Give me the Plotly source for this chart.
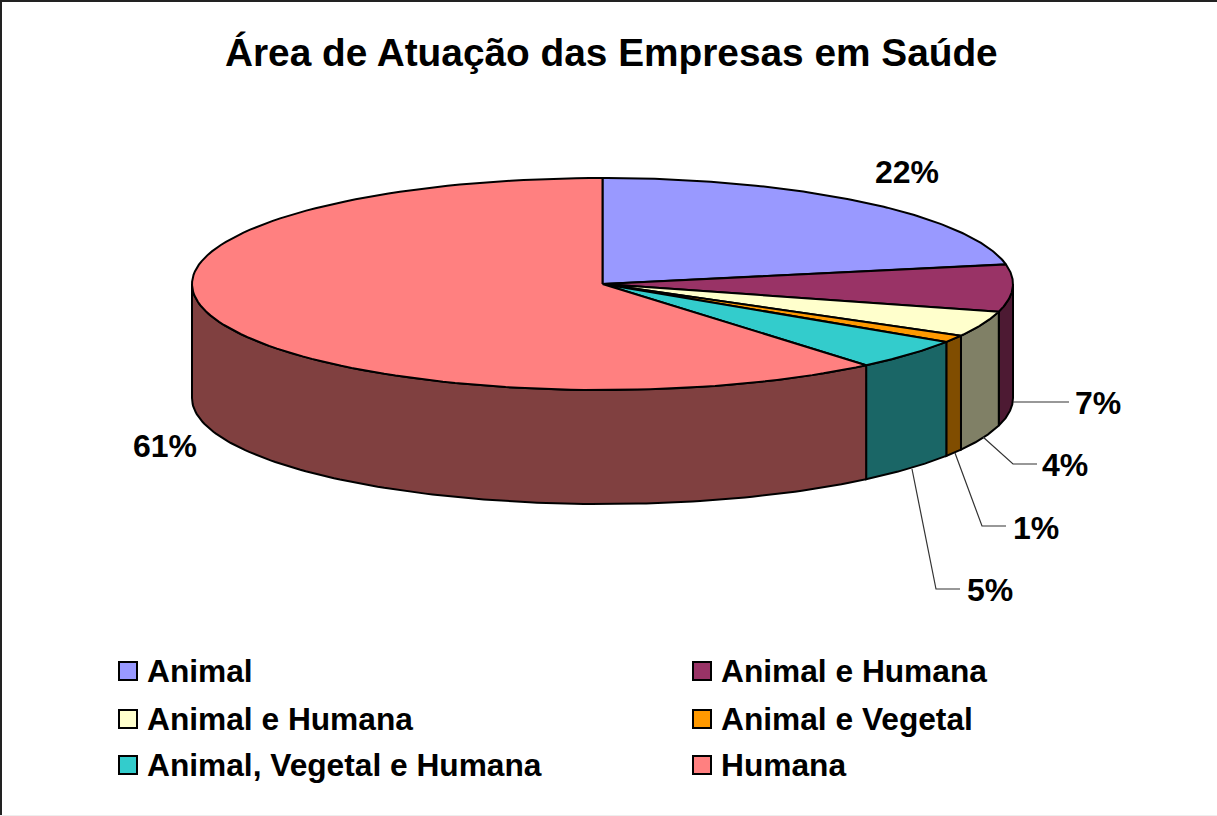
import numpy as np
import plotly.graph_objects as go

categories = ["Animal", "Animal e Humana", "Animal e Humana", "Animal e Vegetal",
              "Animal, Vegetal e Humana", "Humana"]
values = [22, 7.2, 3.9, 1.1, 4.7, 61.1]
labels = ["22%", "7%", "4%", "1%", "5%", "61%"]
top_colors = ["#9999FF", "#993366", "#FFFFCC", "#FF9900", "#33CCCC", "#FF8080"]
side_colors = ["#4D4D80", "#4D1A33", "#808066", "#804D00", "#1A6666", "#804040"]

CX, CY, RX, RY, DEPTH = 602.5, 284, 410.5, 106, 114
FONT = "Liberation Sans, Arial, sans-serif"


def rim(a0, a1, n=120):
    t = np.radians(np.linspace(a0, a1, n))
    return CX + RX * np.sin(t), CY - RY * np.cos(t)


fig = go.Figure()
edges = np.cumsum([0] + values) * 360.0 / sum(values)

# Outer wall, visible only on the front half
for a0, a1, col in zip(edges[:-1], edges[1:], side_colors):
    lo, hi = max(a0, 90), min(a1, 270)
    if lo >= hi:
        continue
    x, y = rim(lo, hi)
    fig.add_trace(go.Scatter(
        x=np.r_[x, x[::-1], x[0]], y=np.r_[y, y[::-1] + DEPTH, y[0]],
        mode="lines", fill="toself", fillcolor=col,
        line=dict(color="black", width=2), hoverinfo="skip", showlegend=False))

# Top face
for a0, a1, col, name in zip(edges[:-1], edges[1:], top_colors, categories):
    x, y = rim(a0, a1)
    fig.add_trace(go.Scatter(
        x=np.r_[CX, x, CX], y=np.r_[CY, y, CY],
        mode="lines", fill="toself", fillcolor=col, name=name,
        line=dict(color="black", width=2), showlegend=False))

# Leader lines
leaders = [([1013, 1069], [402, 402]),
           ([983, 1013, 1037], [437, 464, 464]),
           ([955, 982, 1006], [453, 526, 526]),
           ([912, 936, 960], [469, 589, 589])]
for lx, ly in leaders:
    fig.add_trace(go.Scatter(x=lx, y=ly, mode="lines", hoverinfo="skip", showlegend=False,
                             line=dict(color="#333333", width=1.2)))

# Data labels
label_x = [907, 1098, 1065, 1036, 990, 165]
label_y = [175, 406, 468, 531, 593, 449]
fig.add_trace(go.Scatter(x=label_x, y=label_y, mode="text", text=labels,
                         textposition="middle center", hoverinfo="skip", showlegend=False,
                         textfont=dict(family=FONT, size=32, color="black", weight="bold")))

# Legend
leg_x = [128, 702, 128, 702, 128, 702]
leg_y = [671, 671, 719, 719, 765, 765]
fig.add_trace(go.Scatter(x=leg_x, y=leg_y, mode="markers", hoverinfo="skip", showlegend=False,
                         marker=dict(symbol="square", size=18, color=top_colors,
                                     line=dict(color="black", width=2))))
for x, y, name in zip(leg_x, leg_y, categories):
    fig.add_annotation(x=x + 17, y=y, text=f"<b>{name}</b>", showarrow=False, xanchor="left",
                       yanchor="middle", font=dict(family=FONT, size=31.7, color="black"))

fig.add_annotation(x=611, y=52, text="<b>Área de Atuação das Empresas em Saúde</b>", showarrow=False,
                   xanchor="center", yanchor="middle", font=dict(family=FONT, size=38.8, color="black"))

fig.update_layout(
    width=1217, height=816, margin=dict(l=0, r=0, t=0, b=0), autosize=False,
    paper_bgcolor="white", plot_bgcolor="white", showlegend=False,
    xaxis=dict(range=[0, 1217], visible=False, fixedrange=True),
    yaxis=dict(range=[816, 0], visible=False, fixedrange=True),
    shapes=[
        dict(type="line", xref="x", yref="y", x0=1, x1=1, y0=0, y1=816, line=dict(color="#222222", width=2)),
        dict(type="line", xref="x", yref="y", x0=0, x1=1217, y0=1, y1=1, line=dict(color="#222222", width=2)),
        dict(type="line", xref="x", yref="y", x0=0, x1=1217, y0=815.5, y1=815.5, line=dict(color="#EEEEEE", width=1)),
    ],
)
fig.write_html("out.html", config={"displayModeBar": False},
               post_script="document.body.style.margin='0';document.body.style.overflow='hidden';")
